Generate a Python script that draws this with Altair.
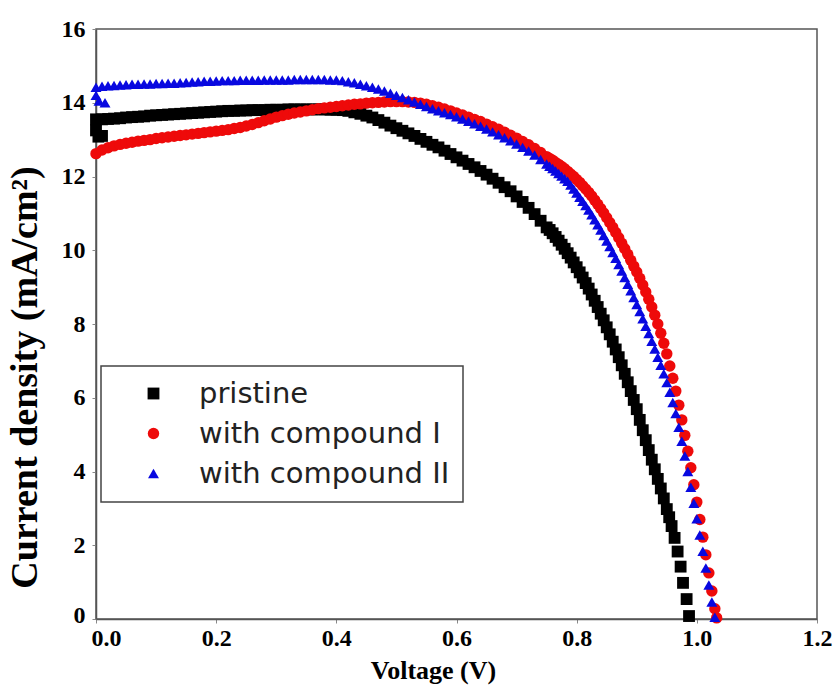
import altair as alt
import pandas as pd

# ---------------- data ----------------
series_names = ["pristine", "with compound I", "with compound II"]
series_colors = ["#000000", "#ee0a0a", "#0808e0"]
series_shapes = ["square", "circle", "triangle-up"]

x_ticks = [0.0, 0.2, 0.4, 0.6, 0.8, 1.0, 1.2]
y_ticks = [0, 2, 4, 6, 8, 10, 12, 14, 16]

voltage_sweep = [0.00, 0.01, 0.02, 0.03, 0.04, 0.05, 0.06, 0.07, 0.08, 0.09,
                 0.10, 0.11, 0.12, 0.13, 0.14, 0.15, 0.16, 0.17, 0.18, 0.19,
                 0.20, 0.21, 0.22, 0.23, 0.24, 0.25, 0.26, 0.27, 0.28, 0.29,
                 0.30, 0.31, 0.32, 0.33, 0.34, 0.35, 0.36, 0.37, 0.38, 0.39,
                 0.40, 0.41, 0.42, 0.43, 0.44, 0.45, 0.46, 0.47, 0.48, 0.49,
                 0.50, 0.51, 0.52, 0.53, 0.54, 0.55, 0.56, 0.57, 0.58, 0.59,
                 0.60, 0.61, 0.62, 0.63, 0.64, 0.65, 0.66, 0.67, 0.68, 0.69,
                 0.70, 0.71, 0.72, 0.73, 0.74, 0.75]
voltage_fine = [0.755, 0.760, 0.765, 0.770, 0.775, 0.780, 0.785, 0.790, 0.795, 0.800,
                0.805, 0.810, 0.815, 0.820, 0.825, 0.830, 0.835, 0.840, 0.845, 0.850,
                0.855, 0.860, 0.865, 0.870, 0.875, 0.880, 0.885, 0.890, 0.895, 0.900,
                0.905, 0.910, 0.915, 0.920, 0.925, 0.930, 0.935, 0.940, 0.945, 0.950]

# pristine (black squares)
pristine_sweep = [13.55, 13.55, 13.56, 13.57, 13.58, 13.60, 13.61, 13.62, 13.63, 13.65,
                  13.66, 13.67, 13.68, 13.69, 13.70, 13.71, 13.72, 13.73, 13.74, 13.75,
                  13.76, 13.77, 13.78, 13.78, 13.79, 13.79, 13.80, 13.80, 13.80, 13.81,
                  13.81, 13.81, 13.82, 13.82, 13.82, 13.82, 13.82, 13.82, 13.82, 13.81,
                  13.81, 13.80, 13.78, 13.74, 13.70, 13.65, 13.60, 13.53, 13.46, 13.38,
                  13.31, 13.24, 13.17, 13.10, 13.02, 12.94, 12.86, 12.79, 12.70, 12.61,
                  12.52, 12.43, 12.34, 12.25, 12.15, 12.05, 11.94, 11.83, 11.71, 11.60,
                  11.46, 11.31, 11.15, 10.98, 10.80, 10.62]
pristine_fine = [10.55, 10.46, 10.36, 10.26, 10.15, 10.04, 9.92, 9.80, 9.67, 9.54,
                 9.40, 9.26, 9.11, 8.96, 8.80, 8.63, 8.46, 8.28, 8.10, 7.91,
                 7.72, 7.52, 7.31, 7.10, 6.88, 6.65, 6.42, 6.18, 5.94, 5.69,
                 5.40, 5.12, 4.85, 4.58, 4.32, 4.06, 3.80, 3.54, 3.27, 2.98]
pristine_tail_v = [0.954, 0.958, 0.963, 0.968, 0.973, 0.977, 0.983, 0.987]
pristine_tail_j = [2.76, 2.52, 2.20, 1.83, 1.42, 0.98, 0.54, 0.08]
pristine_hook_v = [0.000, 0.004, 0.010]
pristine_hook_j = [13.25, 13.08, 13.10]

# with compound I (red circles)
compound1_sweep = [12.62, 12.72, 12.78, 12.83, 12.87, 12.90, 12.93, 12.96, 12.98, 13.00,
                   13.03, 13.05, 13.07, 13.09, 13.11, 13.13, 13.15, 13.17, 13.19, 13.21,
                   13.23, 13.25, 13.27, 13.30, 13.33, 13.37, 13.41, 13.46, 13.51, 13.56,
                   13.61, 13.65, 13.69, 13.72, 13.75, 13.78, 13.81, 13.84, 13.86, 13.88,
                   13.90, 13.92, 13.94, 13.96, 13.97, 13.99, 14.00, 14.01, 14.02, 14.03,
                   14.03, 14.03, 14.02, 14.01, 13.99, 13.96, 13.92, 13.88, 13.83, 13.78,
                   13.72, 13.67, 13.61, 13.55, 13.49, 13.42, 13.35, 13.28, 13.20, 13.12,
                   13.04, 12.95, 12.86, 12.76, 12.65, 12.54]
compound1_fine = [12.49, 12.44, 12.38, 12.33, 12.27, 12.21, 12.14, 12.07, 12.00, 11.92,
                  11.84, 11.75, 11.66, 11.57, 11.47, 11.36, 11.25, 11.13, 11.01, 10.88,
                  10.75, 10.62, 10.48, 10.34, 10.19, 10.04, 9.89, 9.73, 9.57, 9.41,
                  9.24, 9.06, 8.87, 8.67, 8.46, 8.24, 8.00, 7.75, 7.48, 7.19]
compound1_tail_v = [0.955, 0.960, 0.965, 0.970, 0.975, 0.980, 0.985, 0.990, 0.995,
                    1.000, 1.005, 1.010, 1.015, 1.020, 1.025, 1.030, 1.033]
compound1_tail_j = [6.86, 6.53, 6.18, 5.80, 5.40, 4.98, 4.55, 4.10, 3.64,
                    3.17, 2.70, 2.22, 1.74, 1.25, 0.76, 0.28, 0.03]

# with compound II (blue triangles)
compound2_sweep = [14.42, 14.45, 14.46, 14.47, 14.48, 14.49, 14.50, 14.50, 14.51, 14.51,
                   14.52, 14.52, 14.53, 14.53, 14.54, 14.55, 14.56, 14.57, 14.58, 14.58,
                   14.59, 14.60, 14.60, 14.60, 14.61, 14.61, 14.61, 14.61, 14.62, 14.62,
                   14.62, 14.62, 14.62, 14.63, 14.63, 14.63, 14.63, 14.63, 14.63, 14.62,
                   14.62, 14.60, 14.57, 14.54, 14.50, 14.46, 14.42, 14.37, 14.32, 14.26,
                   14.20, 14.14, 14.08, 14.02, 13.96, 13.90, 13.84, 13.78, 13.73, 13.68,
                   13.62, 13.56, 13.50, 13.43, 13.36, 13.29, 13.21, 13.13, 13.05, 12.97,
                   12.88, 12.79, 12.69, 12.58, 12.46, 12.34]
compound2_fine = [12.28, 12.22, 12.15, 12.08, 12.01, 11.94, 11.87, 11.77, 11.66, 11.55,
                  11.44, 11.33, 11.21, 11.09, 10.96, 10.83, 10.69, 10.55, 10.40, 10.25,
                  10.10, 9.94, 9.78, 9.61, 9.44, 9.26, 9.08, 8.90, 8.72, 8.53,
                  8.34, 8.14, 7.94, 7.74, 7.53, 7.32, 7.10, 6.88, 6.65, 6.41]
compound2_tail_v = [0.955, 0.960, 0.965, 0.970, 0.975, 0.980, 0.985, 0.990, 0.995,
                    1.000, 1.005, 1.010, 1.015, 1.020, 1.025, 1.030]
compound2_tail_j = [6.15, 5.87, 5.57, 5.20, 4.82, 4.42, 4.00, 3.57, 3.14,
                    2.72, 2.28, 1.84, 1.38, 0.92, 0.46, 0.05]
compound2_hook_v = [0.000, 0.005, 0.015]
compound2_hook_j = [14.20, 14.05, 14.00]

# ---------------- table ----------------
rows = []
def add(name, vs, js):
    for v, j in zip(vs, js):
        rows.append({"series": name, "V": v, "J": j})

add(series_names[0], pristine_hook_v, pristine_hook_j)
add(series_names[0], voltage_sweep + voltage_fine + pristine_tail_v,
    pristine_sweep + pristine_fine + pristine_tail_j)
add(series_names[1], voltage_sweep + voltage_fine + compound1_tail_v,
    compound1_sweep + compound1_fine + compound1_tail_j)
add(series_names[2], compound2_hook_v, compound2_hook_j)
add(series_names[2], voltage_sweep + voltage_fine + compound2_tail_v,
    compound2_sweep + compound2_fine + compound2_tail_j)
df = pd.DataFrame(rows)
df["idx"] = range(len(df))

serif = "Liberation Serif"

legend = alt.Legend(
    title=None, orient="none", legendX=5, legendY=337,
    padding=13, strokeColor="#444444", fillColor="white",
    labelFont="DejaVu Sans", labelFontSize=29, labelColor="#222222", labelLimit=400,
    symbolSize=160, symbolOffset=25, labelOffset=31, rowPadding=10,
    symbolStrokeWidth=0,
)

chart = alt.Chart(df).mark_point(filled=True, opacity=1, strokeWidth=0).encode(
    x=alt.X("V:Q", scale=alt.Scale(domain=[0, 1.2], nice=False),
            axis=alt.Axis(values=x_ticks, format=".1f", title="Voltage (V)",
                          grid=False, domainColor="#555555", domainWidth=1.5,
                          tickSize=4, tickColor="#888888", labelPadding=3,
                          labelFlush=False,
                          labelFont=serif, labelFontSize=24, labelFontWeight="bold",
                          labelColor="black",
                          labelOffset={"condition": {"test": "datum.value === 0", "value": 10}, "value": 0},
                          titleFont=serif, titleFontSize=26, titleFontWeight="bold",
                          titleColor="black", titleX=337, titleY=59,
                          titleBaseline="alphabetic", titleAlign="center")),
    y=alt.Y("J:Q", scale=alt.Scale(domain=[0, 16], nice=False),
            axis=alt.Axis(values=y_ticks, format="d", title="Current density (mA/cm²)",
                          grid=False, domainColor="#555555", domainWidth=1.5,
                          tickSize=4, tickColor="#888888", labelPadding=7,
                          labelFlush=False,
                          labelFont=serif, labelFontSize=24, labelFontWeight="bold",
                          labelColor="black",
                          labelOffset={"condition": {"test": "datum.value === 0", "value": -4}, "value": 0},
                          titleFont=serif, titleFontSize=38, titleFontWeight="bold",
                          titleColor="black", titleAngle=270, titleX=-71, titleY=348,
                          titleAlign="center", titleBaseline="middle")),
    color=alt.Color("series:N", scale=alt.Scale(domain=series_names, range=series_colors),
                    legend=legend),
    shape=alt.Shape("series:N", scale=alt.Scale(domain=series_names, range=series_shapes),
                    legend=legend),
    size=alt.Size("series:N", scale=alt.Scale(domain=series_names, range=[140, 120, 175]),
                  legend=None),
    order=alt.Order("idx:Q"),
).properties(
    width=721, height=590,
    autosize=alt.AutoSizeParams(type="none"),
    padding={"left": 96, "top": 29, "right": 20, "bottom": 69},
    background="white",
).configure_view(stroke="#555555", strokeWidth=1.5).configure_legend(strokeWidth=1.5)

chart.save("out.html", embed_options={"renderer": "svg", "actions": False})
